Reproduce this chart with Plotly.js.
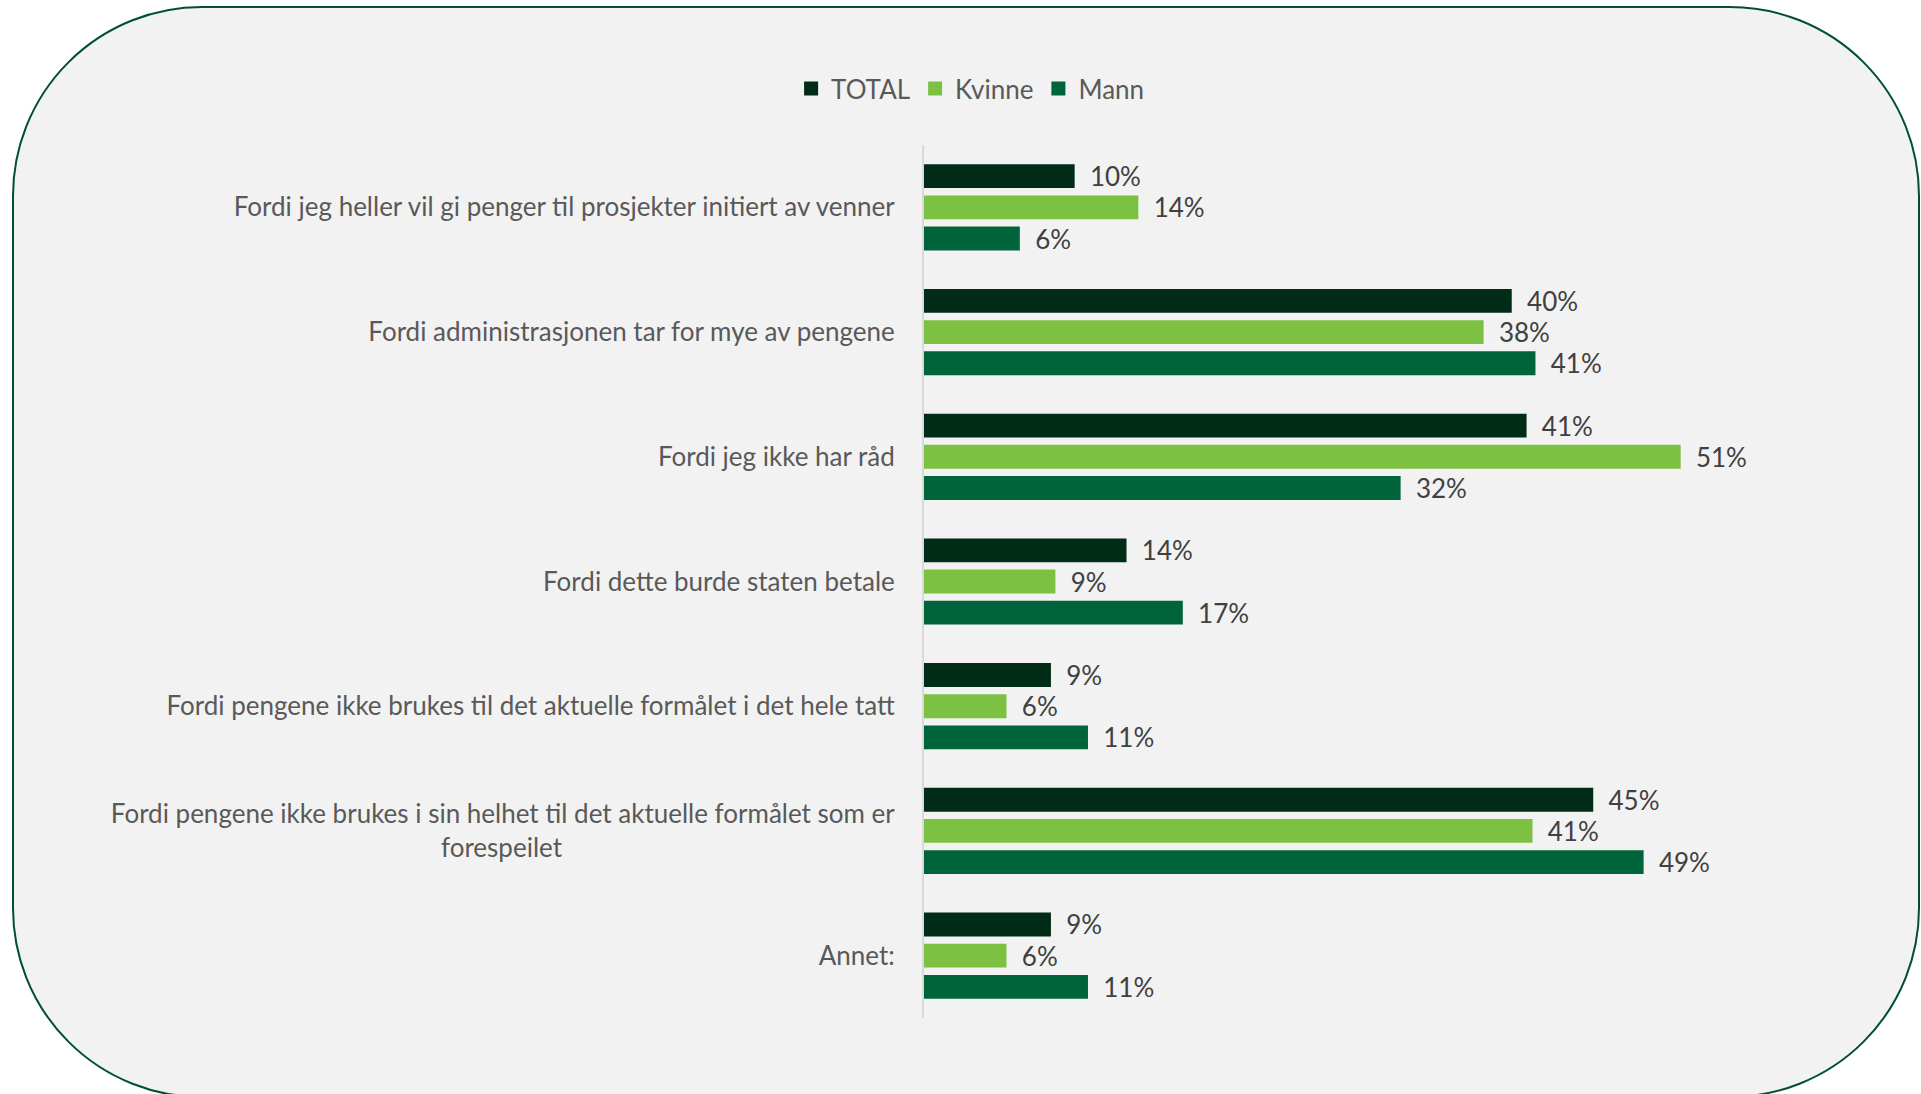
<!DOCTYPE html>
<html>
<head>
<meta charset="utf-8">
<script src="https://cdn.plot.ly/plotly-3.0.1.min.js"></script>
<style>
  html, body { margin: 0; padding: 0; background: #ffffff; }
  #frame {
    position: absolute; left: 12px; top: 6px; width: 1908px; height: 1092px;
    background: #f2f2f2; border: 2.5px solid #00502e; border-radius: 190px;
    box-sizing: border-box;
  }
  #chart { position: absolute; left: 0; top: 0; width: 1921px; height: 1094px; }
</style>
</head>
<body>
<div id="frame"></div>
<div id="chart"></div>
<script>
const NBSP = '\u00a0';
const categories = [
  'Fordi jeg heller vil gi penger til prosjekter initiert av venner',
  'Fordi administrasjonen tar for mye av pengene',
  'Fordi jeg ikke har råd',
  'Fordi dette burde staten betale',
  'Fordi pengene ikke brukes til det aktuelle formålet i det hele tatt',
  'Fordi pengene ikke brukes i sin helhet til det aktuelle formålet som er<br>forespeilet' + NBSP.repeat(50),
  'Annet:'
];
const seriesNames = ['TOTAL', 'Kvinne', 'Mann'];
// bar lengths (percent)
const totalValues  = [10.1, 39.6, 40.6, 13.6, 8.5, 45.1, 8.5];
const kvinneValues = [14.4, 37.7, 51.0, 8.8, 5.5, 41.0, 5.5];
const mannValues   = [6.4, 41.2, 32.1, 17.4, 11.0, 48.5, 11.0];
// data labels as printed
const totalLabels  = ['10%', '40%', '41%', '14%', '9%', '45%', '9%'];
const kvinneLabels = ['14%', '38%', '51%', '9%', '6%', '41%', '6%'];
const mannLabels   = ['6%', '41%', '32%', '17%', '11%', '49%', '11%'];
const seriesColors = ['#012c18', '#7cc142', '#00643a'];

const seriesValues = [totalValues, kvinneValues, mannValues];
const seriesLabels = [totalLabels, kvinneLabels, mannLabels];
const catIdx = categories.map((c, i) => i);

const traces = seriesNames.map((name, s) => ({
  type: 'bar',
  orientation: 'h',
  name: name,
  y: catIdx,
  x: seriesValues[s],
  text: seriesLabels[s].map(t => NBSP + NBSP + t),
  textposition: 'outside',
  constraintext: 'none',
  cliponaxis: false,
  textfont: { family: 'Lato, sans-serif', size: 26, color: '#404040' },
  marker: { color: seriesColors[s], line: { width: 2, color: seriesColors[s] } },
  hoverinfo: 'skip'
}));

const layout = {
  width: 1921,
  height: 1094,
  paper_bgcolor: 'rgba(0,0,0,0)',
  plot_bgcolor: 'rgba(0,0,0,0)',
  margin: { l: 924, r: 108, t: 145, b: 76, pad: 0 },
  barmode: 'group',
  bargap: 0.25,
  bargroupgap: 0.3,
  showlegend: true,
  legend: {
    orientation: 'h',
    xref: 'container', yref: 'container',
    x: 0.505, xanchor: 'center',
    y: 0.919, yanchor: 'middle',
    font: { family: 'Lato, sans-serif', size: 26, color: '#595959' },
    itemwidth: 30,
    traceorder: 'normal',
    bgcolor: 'rgba(0,0,0,0)'
  },
  xaxis: {
    range: [0, 60],
    showgrid: false, zeroline: false, showline: false,
    showticklabels: false, ticks: '', fixedrange: true
  },
  yaxis: {
    tickmode: 'array',
    tickvals: catIdx,
    ticktext: categories,
    range: [6.5, -0.5],
    showgrid: false, zeroline: false,
    showline: true, linecolor: '#d9d9d9', linewidth: 2,
    ticks: '',
    ticklabelstandoff: 22,
    tickfont: { family: 'Lato, sans-serif', size: 26, color: '#595959' },
    fixedrange: true
  },
  font: { family: 'Lato, sans-serif' }
};

Plotly.newPlot('chart', traces, layout, { displayModeBar: false, staticPlot: true });
</script>
</body>
</html>
